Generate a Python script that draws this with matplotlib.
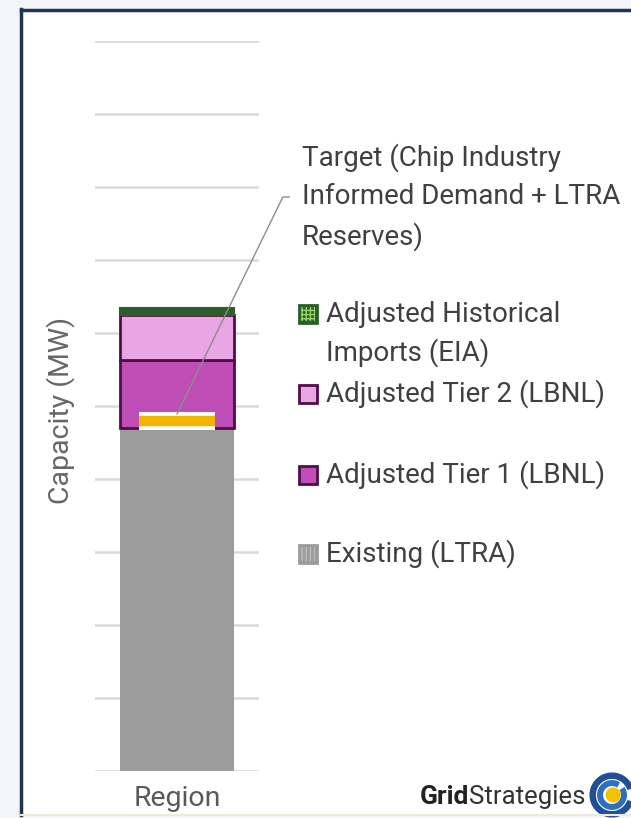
import matplotlib.pyplot as plt
from matplotlib.patches import Rectangle, Circle, Wedge
from matplotlib.lines import Line2D
import matplotlib.patheffects as pe

plt.rcParams['font.family'] = ['Roboto', 'DejaVu Sans']

# data (units = one gridline step, axis values are not printed on the chart)
region = ["Region"]
existing = [4.70]
tier1 = [0.93]
tier2 = [0.62]
imports = [0.09]
target = [4.79]

target_label = "Target (Chip Industry\nInformed Demand + LTRA\nReserves)"
legend_labels = ["Adjusted Historical\nImports (EIA)", "Adjusted Tier 2 (LBNL)",
                 "Adjusted Tier 1 (LBNL)", "Existing (LTRA)"]

c_existing = "#9C9C9C"
c_tier1 = "#BE4DB6"
c_tier2 = "#EAA5E4"
c_imports = "#2B5E2B"
c_edge = "#4F0E48"
c_target = "#F2B400"
c_text = "#404040"

W, H = 631, 818
FS = 20


def fx(px):
    return px / W


def fy(py):
    return 1 - py / H


fig = plt.figure(figsize=(W / 100, H / 100), dpi=100)
fig.patch.set_facecolor("#F3F6F9")

# white panel with a navy frame
fig.add_artist(Rectangle((fx(21), fy(815)), 1, fy(10) - fy(815), transform=fig.transFigure,
                         facecolor="white", edgecolor="none", zorder=0))
fig.add_artist(Line2D([fx(21), fx(21)], [fy(9), fy(815)], transform=fig.transFigure,
                      color="#1E3556", lw=2.5))
fig.add_artist(Line2D([fx(21), 1], [fy(10), fy(10)], transform=fig.transFigure,
                      color="#1E3556", lw=2.5))
fig.add_artist(Line2D([fx(21), 1], [fy(815), fy(815)], transform=fig.transFigure,
                      color="#EDEBD8", lw=1.5))

ax = fig.add_axes([fx(95), fy(771), fx(164), fy(41) - fy(771)])
ax.set_facecolor("none")

b1 = [e for e in existing]
b2 = [e + t for e, t in zip(existing, tier1)]
b3 = [e + t1 + t2 for e, t1, t2 in zip(existing, tier1, tier2)]

ax.bar(region, existing, width=0.7, color=c_existing, zorder=2)
ax.bar(region, tier1, bottom=b1, width=0.7, color=c_tier1, edgecolor=c_edge, lw=2, zorder=2)
ax.bar(region, tier2, bottom=b2, width=0.7, color=c_tier2, edgecolor=c_edge, lw=2, zorder=2)
ax.bar(region, imports, bottom=b3, width=0.7, color=c_imports, edgecolor=c_imports, lw=1.5, zorder=2)

# target marker
ax.plot([-0.23, 0.23], [target[0], target[0]], color=c_target, lw=7.5, solid_capstyle="butt",
        zorder=4, path_effects=[pe.Stroke(linewidth=13, foreground="white"), pe.Normal()])

ax.annotate(target_label, xy=(0, target[0] + 0.1), xycoords="data",
            xytext=(fx(302), fy(197)), textcoords="figure fraction",
            ha="left", va="center", fontsize=FS, color=c_text, linespacing=1.55,
            arrowprops=dict(arrowstyle="-", color="#8C8C8C", lw=1,
                            connectionstyle="angle,angleA=0,angleB=64,rad=0",
                            shrinkA=7, shrinkB=0, relpos=(0, 0.5)),
            zorder=5, annotation_clip=False)

ax.set_xlim(-0.5, 0.5)
ax.set_ylim(0, 10)
ax.set_yticks(range(11))
ax.yaxis.grid(True, color="#D9D9D9", lw=1.8)
ax.set_axisbelow(True)
ax.tick_params(axis="y", left=False, labelleft=False)
ax.tick_params(axis="x", length=0, pad=10, labelsize=20.5, labelcolor="#595959")
for s in ax.spines.values():
    s.set_visible(False)

fig.text(fx(61), fy(410), "Capacity (MW)", rotation=90, ha="center", va="center",
         fontsize=20.5, color="#666666")

# legend, drawn by hand to keep the uneven spacing
legend_y = [314, 394, 475, 554]
legend_face = [c_imports, c_tier2, c_tier1, c_existing]
legend_edge = ["#2B5E2B", c_edge, c_edge, c_existing]
legend_hatch = ["++++", None, None, "||||"]
legend_hcol = ["#9BD36A", None, None, "#BDBDBD"]
for lab, y, fc, ec, h, hc in zip(legend_labels, legend_y, legend_face, legend_edge,
                                 legend_hatch, legend_hcol):
    sq = Rectangle((fx(299), fy(y + 9)), fx(18), fy(y - 9) - fy(y + 9), transform=fig.transFigure,
                   facecolor=fc, edgecolor=ec, lw=2)
    fig.add_artist(sq)
    if h:
        fig.add_artist(Rectangle((fx(301), fy(y + 7)), fx(14), fy(y - 7) - fy(y + 7),
                                 transform=fig.transFigure, facecolor="none",
                                 edgecolor=hc, hatch=h, lw=0))
    fig.text(fx(326), fy(y), lab.split("\n")[0], ha="left", va="center",
             fontsize=FS, color=c_text)
    if "\n" in lab:
        fig.text(fx(326), fy(y + 39), lab.split("\n")[1], ha="left", va="center",
                 fontsize=FS, color=c_text)

# logo
fig.text(fx(420), fy(797), "Grid", ha="left", va="center", fontsize=19,
         fontweight="bold", color="#222222")
fig.text(fx(469), fy(797), "Strategies", ha="left", va="center", fontsize=18.5,
         color="#333333")
lax = fig.add_axes([fx(589), fy(818), fx(46), fy(772) - fy(818)])
lax.set_xlim(-1, 1)
lax.set_ylim(-1, 1)
lax.set_aspect("equal")
lax.axis("off")
lax.add_patch(Wedge((0, 0), 0.95, 20, 340, width=0.22, color="#1F4E9A"))
lax.add_patch(Wedge((0, 0), 0.62, 60, 390, width=0.2, color="#2E6FC0"))
lax.add_patch(Circle((0.05, 0.0), 0.3, color="#F2C200"))

fig.savefig("out.png", dpi=100, facecolor=fig.get_facecolor())
